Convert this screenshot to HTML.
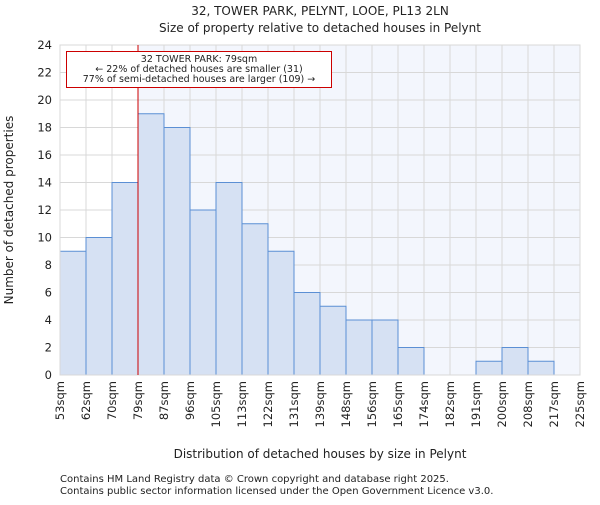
<!DOCTYPE html>
<html><head><meta charset="utf-8"><style>
body{margin:0;background:#fff}
svg text{font-family:"DejaVu Sans","Liberation Sans",sans-serif;fill:#222}
</style></head><body>
<svg id="chart" width="600" height="500" viewBox="0 0 600 500">
<text x="320" y="15" font-size="12" text-anchor="middle">32, TOWER PARK, PELYNT, LOOE, PL13 2LN</text>
<text x="320" y="32" font-size="12" text-anchor="middle">Size of property relative to detached houses in Pelynt</text>
<g id="plot"></g>
<text x="320" y="458" font-size="12" text-anchor="middle">Distribution of detached houses by size in Pelynt</text>
<text transform="translate(13,210) rotate(-90)" font-size="12" text-anchor="middle">Number of detached properties</text>
<text x="60" y="482" font-size="10" fill="#333">Contains HM Land Registry data © Crown copyright and database right 2025.</text>
<text x="60" y="494" font-size="10" fill="#333">Contains public sector information licensed under the Open Government Licence v3.0.</text>
</svg>
<script>
const categories=["53sqm","62sqm","70sqm","79sqm","87sqm","96sqm","105sqm","113sqm","122sqm","131sqm","139sqm","148sqm","156sqm","165sqm","174sqm","182sqm","191sqm","200sqm","208sqm","217sqm","225sqm"];
const counts=[9,10,14,19,18,12,14,11,9,6,5,4,4,2,0,0,1,2,1,0];
const yTicks=[0,2,4,6,8,10,12,14,16,18,20,22,24];
const markerIndex=3;
const L=60,R=580,T=45,B=375,YMAX=24;
const NS="http://www.w3.org/2000/svg";
const g=document.getElementById('plot');
const bw=(R-L)/counts.length;
const x=i=>L+i*bw;
const y=v=>B-(v/YMAX)*(B-T);
function el(t,a){const e=document.createElementNS(NS,t);for(const k in a)e.setAttribute(k,a[k]);g.appendChild(e);return e;}
let e;
e=el('rect',{x:x(markerIndex),y:T,width:R-x(markerIndex),height:B-T,fill:'#f3f6fd'});


yTicks.forEach(v=>{
 e=el('line',{x1:L,x2:R,y1:y(v),y2:y(v),stroke:'#d8d8d8','stroke-width':1});
 
 
 e=el('text',{x:L-8,y:y(v)+4,'font-size':11.5,'text-anchor':'end'});e.textContent=v;
 
 
});
categories.forEach((c,i)=>{
 e=el('line',{x1:x(i),x2:x(i),y1:T,y2:B,stroke:'#d8d8d8','stroke-width':1});
 
 
 e=el('text',{transform:`translate(${x(i)+4},${B+6}) rotate(-90)`,'font-size':11.5,'text-anchor':'end'});e.textContent=c;
 
 
});
counts.forEach((v,i)=>{
 if(v<=0)return;
 e=el('rect',{x:x(i),y:y(v),width:bw,height:B-y(v),fill:'#d6e1f3',stroke:'#5b8fd4','stroke-width':1});
 
 
});
e=el('rect',{x:L,y:T,width:R-L,height:B-T,fill:'none',stroke:'#d8d8d8'});


e=el('line',{x1:x(markerIndex),x2:x(markerIndex),y1:T,y2:B,stroke:'#cc0000','stroke-width':1});


e=el('rect',{x:66.5,y:51.5,width:265,height:36,fill:'#fff',stroke:'#cc0000','stroke-width':1});


["32 TOWER PARK: 79sqm","← 22% of detached houses are smaller (31)","77% of semi-detached houses are larger (109) →"].forEach((t,k)=>{
 e=el('text',{x:199,y:62+k*10,'font-size':9.5,'text-anchor':'middle'});e.textContent=t;
 
 
});
</script>
</body></html>
